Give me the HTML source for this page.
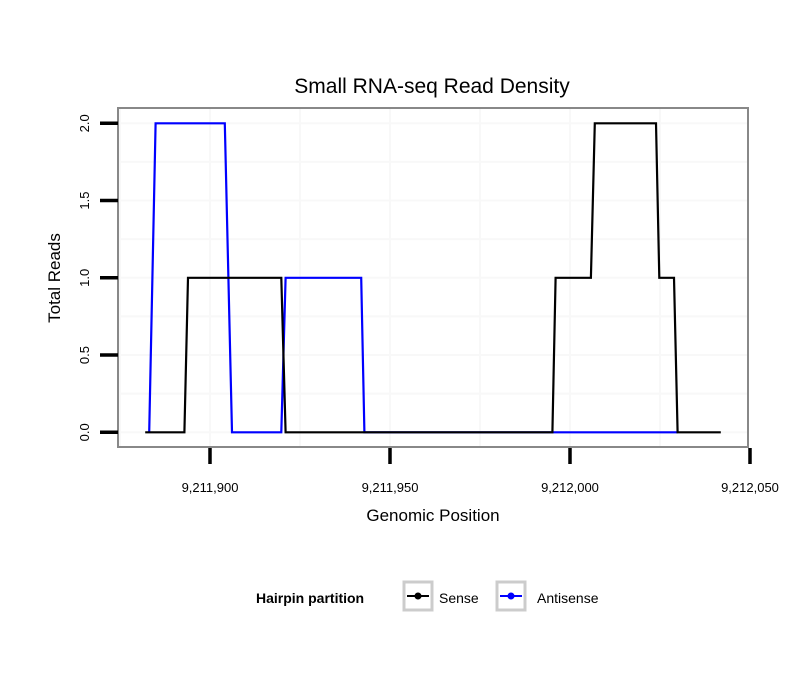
<!DOCTYPE html>
<html><head><meta charset="utf-8"><style>
body{margin:0;background:#fff;}
svg{display:block;font-family:"Liberation Sans",sans-serif;}
</style></head><body>
<svg id="chart" width="810" height="690">
<rect x="0" y="0" width="810" height="690" fill="#fff"/>
<text x="432" y="93" font-size="21" text-anchor="middle">Small RNA-seq Read Density</text>
<g id="grid"></g>
<g id="series"></g>
<rect x="118" y="108" width="630" height="339" fill="none" stroke="#888" stroke-width="2"/>
<g id="axes"></g>
<text transform="translate(60,278) rotate(-90)" font-size="17" text-anchor="middle">Total Reads</text>
<text x="433" y="521" font-size="17" text-anchor="middle">Genomic Position</text>
<g>
<text x="256" y="603" font-size="14" font-weight="bold">Hairpin partition</text>
<g>
<rect x="404" y="582" width="28" height="28" fill="#fff" stroke="#ccc" stroke-width="3"/>
<line x1="407" y1="596" x2="429" y2="596" stroke="#000" stroke-width="2"/>
<circle cx="418" cy="596" r="3.5" fill="#000"/>
<text x="439" y="603" font-size="14">Sense</text>
</g>
<g>
<rect x="497" y="582" width="28" height="28" fill="#fff" stroke="#ccc" stroke-width="3"/>
<line x1="500" y1="596" x2="522" y2="596" stroke="#00f" stroke-width="2"/>
<circle cx="511" cy="596" r="3.5" fill="#00f"/>
<text x="537" y="603" font-size="14">Antisense</text>
</g>
</g>
</svg>
<script>
const senseX=[9211882.0,9211892.9,9211893.9,9211919.8,9211921.0,9211995.1,9211996.0,9212005.8,9212006.9,9212023.9,9212024.8,9212028.9,9212029.9,9212041.9];
const senseY=[0,0,1,1,0,0,1,1,2,2,1,1,0,0];
const antiX=[9211883.1,9211884.9,9211904.1,9211906.1,9211919.8,9211921.0,9211942.0,9211942.9,9212029.9];
const antiY=[0,2,2,0,0,1,1,0,0];
const xTicks=[9211900,9211950,9212000,9212050];
const xTickLabels=["9,211,900","9,211,950","9,212,000","9,212,050"];
const yTicks=[0,0.5,1,1.5,2];
const yTickLabels=["0.0","0.5","1.0","1.5","2.0"];

const NS="http://www.w3.org/2000/svg";
function xs(v){return 210+(v-9211900)*3.6;}
function ys(v){return 432.3-v*154.5;}
function mk(tag,attrs,parent){const e=document.createElementNS(NS,tag);for(const k in attrs)e.setAttribute(k,attrs[k]);parent.appendChild(e);return e;}
const grid=document.getElementById('grid'),axes=document.getElementById('axes'),series=document.getElementById('series');
for(let v=9211875;v<=9212050;v+=25){
  const x=xs(v); if(x<119||x>747)continue;
  const l=mk('line',{x1:x,x2:x,y1:109,y2:446,stroke:'#f8f8f8','stroke-width':2},grid);
  
  
}
for(let v=0;v<=2.25;v+=0.25){
  const y=ys(v); if(y<109||y>446)continue;
  const l=mk('line',{x1:119,x2:747,y1:y,y2:y,stroke:'#f8f8f8','stroke-width':2},grid);
  
  
}
function path(X,Y,color,name){
  let d='';for(let i=0;i<X.length;i++)d+=(i?'L':'M')+xs(X[i]).toFixed(1)+','+ys(Y[i]).toFixed(1);
  const p=mk('path',{d:d,fill:'none',stroke:color,'stroke-width':2.2,'stroke-linejoin':'miter'},series);
  
  
}
path(antiX,antiY,'#0000ff','antisense-line');
path(senseX,senseY,'#000000','sense-line');
xTicks.forEach((v,i)=>{
  const x=xs(v);
  const t=mk('line',{x1:x,x2:x,y1:448,y2:464,stroke:'#000','stroke-width':3.5},axes);
  
  
  const tx=mk('text',{x:x,y:492,'font-size':13,'text-anchor':'middle'},axes);
  tx.textContent=xTickLabels[i];
  
  
});
yTicks.forEach((v,i)=>{
  const y=ys(v);
  const t=mk('line',{x1:100,x2:118,y1:y,y2:y,stroke:'#000','stroke-width':3.5},axes);
  
  
  const tx=mk('text',{transform:'translate(89,'+y+') rotate(-90)','font-size':13,'text-anchor':'middle'},axes);
  tx.textContent=yTickLabels[i];
  
  
});
</script>
</body></html>
